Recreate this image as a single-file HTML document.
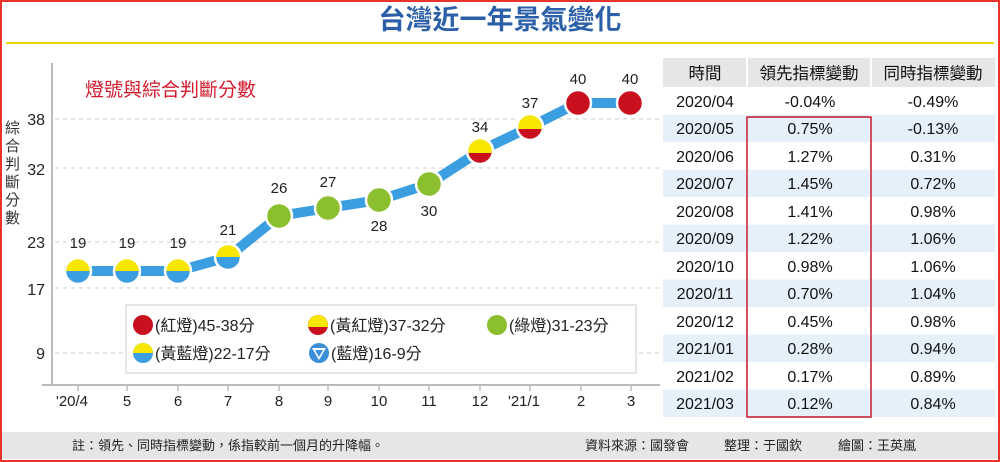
<!DOCTYPE html>
<html><head><meta charset="utf-8"><style>
html,body{margin:0;padding:0;background:#fff}
svg{display:block}
text{font-family:"Liberation Sans","Noto Sans CJK TC",sans-serif}
</style></head><body>
<svg width="1000" height="462" viewBox="0 0 1000 462" xmlns="http://www.w3.org/2000/svg">
<rect x="1" y="1" width="998" height="460" fill="#fff" stroke="#e8322c" stroke-width="2"/>
<text x="500" y="29" text-anchor="middle" font-size="27" font-weight="bold" fill="#2b5fa8">台灣近一年景氣變化</text>
<line x1="6" y1="43" x2="994" y2="43" stroke="#f0d300" stroke-width="2"/>
<g stroke="#ccc" stroke-dasharray="4,4" stroke-width="1">
<line x1="55" y1="119" x2="660" y2="119"/><line x1="55" y1="168" x2="660" y2="168"/>
<line x1="55" y1="242" x2="660" y2="242"/><line x1="55" y1="288" x2="660" y2="288"/>
<line x1="55" y1="353" x2="660" y2="353"/>
</g>
<line x1="52" y1="63" x2="52" y2="385" stroke="#bbb" stroke-width="2"/>
<line x1="42" y1="385" x2="660" y2="385" stroke="#bbb" stroke-width="2"/>
<g font-size="16" fill="#222" text-anchor="end">
<text x="45" y="125">38</text><text x="45" y="175">32</text><text x="45" y="248">23</text><text x="45" y="295">17</text><text x="45" y="359">9</text>
</g>
<g font-size="15" fill="#333">
<text x="5" y="133">綜</text><text x="5" y="151">合</text><text x="5" y="169">判</text><text x="5" y="187">斷</text><text x="5" y="205">分</text><text x="5" y="223">數</text>
</g>
<text x="85" y="96" font-size="19" fill="#d3192b">燈號與綜合判斷分數</text>
<g stroke="#bbb" stroke-width="1.5">
<line x1="78" y1="385" x2="78" y2="391"/><line x1="127" y1="385" x2="127" y2="391"/><line x1="178" y1="385" x2="178" y2="391"/><line x1="228" y1="385" x2="228" y2="391"/><line x1="279" y1="385" x2="279" y2="391"/><line x1="328" y1="385" x2="328" y2="391"/><line x1="379" y1="385" x2="379" y2="391"/><line x1="429" y1="385" x2="429" y2="391"/><line x1="480" y1="385" x2="480" y2="391"/><line x1="530" y1="385" x2="530" y2="391"/><line x1="581" y1="385" x2="581" y2="391"/><line x1="631" y1="385" x2="631" y2="391"/>
</g>
<g font-size="15" fill="#222" text-anchor="middle">
<text x="72" y="406">'20/4</text><text x="127" y="406">5</text><text x="178" y="406">6</text><text x="228" y="406">7</text><text x="279" y="406">8</text><text x="328" y="406">9</text><text x="379" y="406">10</text><text x="429" y="406">11</text><text x="480" y="406">12</text><text x="524" y="406">'21/1</text><text x="581" y="406">2</text><text x="631" y="406">3</text>
</g>
<polyline points="78,271 127,271 178,271 228,257 279,216 328,208 379,200 429,184 480,151 530,127 578,103 630,103" fill="none" stroke="#3a9ee0" stroke-width="10" stroke-linejoin="round"/>
<g id="yb">
<g transform="translate(78,271)"><circle r="13" fill="#3a9ee0"/><path d="M-13,0 A13,13 0 0 1 13,0 Z" fill="#f7e600"/><circle r="13" fill="none" stroke="#fff" stroke-width="2.5"/></g>
<g transform="translate(127,271)"><circle r="13" fill="#3a9ee0"/><path d="M-13,0 A13,13 0 0 1 13,0 Z" fill="#f7e600"/><circle r="13" fill="none" stroke="#fff" stroke-width="2.5"/></g>
<g transform="translate(178,271)"><circle r="13" fill="#3a9ee0"/><path d="M-13,0 A13,13 0 0 1 13,0 Z" fill="#f7e600"/><circle r="13" fill="none" stroke="#fff" stroke-width="2.5"/></g>
<g transform="translate(228,257)"><circle r="13" fill="#3a9ee0"/><path d="M-13,0 A13,13 0 0 1 13,0 Z" fill="#f7e600"/><circle r="13" fill="none" stroke="#fff" stroke-width="2.5"/></g>
</g>
<g stroke="#fff" stroke-width="2.5">
<circle cx="279" cy="216" r="13" fill="#8cbf2e"/>
<circle cx="328" cy="208" r="13" fill="#8cbf2e"/>
<circle cx="379" cy="200" r="13" fill="#8cbf2e"/>
<circle cx="429" cy="184" r="13" fill="#8cbf2e"/>
<circle cx="578" cy="103" r="13" fill="#c8101e"/>
<circle cx="630" cy="103" r="13" fill="#c8101e"/>
</g>
<g transform="translate(480,151)"><circle r="13" fill="#c8101e"/><path d="M-12.85,2 A13,13 0 1 1 12.85,2 Z" fill="#f7e600"/><circle r="13" fill="none" stroke="#fff" stroke-width="2.5"/></g>
<g transform="translate(530,127)"><circle r="13" fill="#c8101e"/><path d="M-12.85,2 A13,13 0 1 1 12.85,2 Z" fill="#f7e600"/><circle r="13" fill="none" stroke="#fff" stroke-width="2.5"/></g>
<g font-size="15" fill="#222" text-anchor="middle">
<text x="78" y="248">19</text><text x="127" y="248">19</text><text x="178" y="248">19</text><text x="228" y="235">21</text>
<text x="279" y="193">26</text><text x="328" y="187">27</text><text x="379" y="231">28</text><text x="429" y="216">30</text>
<text x="480" y="132">34</text><text x="530" y="108">37</text><text x="578" y="84">40</text><text x="630" y="84">40</text>
</g>
<rect x="126" y="305" width="510" height="68" fill="#fff" stroke="#ddd" stroke-width="1.5"/>
<circle cx="143" cy="325" r="10" fill="#c8101e"/>
<g transform="translate(318,325)"><circle r="10" fill="#c8101e"/><path d="M-9.8,2 A10,10 0 1 1 9.8,2 Z" fill="#f7e600"/></g>
<circle cx="497" cy="325" r="10" fill="#8cbf2e"/>
<g transform="translate(143,353)"><circle r="10" fill="#3a9ee0"/><path d="M-10,0 A10,10 0 0 1 10,0 Z" fill="#f7e600"/></g>
<circle cx="319" cy="353" r="10" fill="#3a8fd8"/>
<path d="M312,348 L326,348 L319,360 Z" fill="#fff"/><path d="M315,350 L323,350 L319,357 Z" fill="#3a8fd8"/>
<g font-size="16" fill="#222">
<text x="155" y="331">(紅燈)45-38分</text><text x="330" y="331">(黃紅燈)37-32分</text><text x="509" y="331">(綠燈)31-23分</text>
<text x="155" y="359">(黃藍燈)22-17分</text><text x="331" y="359">(藍燈)16-9分</text>
</g>
<rect x="663" y="58" width="332" height="29" fill="#e6e6e6"/>
<g fill="#e6f0fa">
<rect x="663" y="114.5" width="332" height="27.5"/><rect x="663" y="169.5" width="332" height="27.5"/><rect x="663" y="224.5" width="332" height="27.5"/><rect x="663" y="279.5" width="332" height="27.5"/><rect x="663" y="334.5" width="332" height="27.5"/><rect x="663" y="389.5" width="332" height="27.5"/>
</g>
<line x1="747" y1="58" x2="747" y2="417" stroke="#fff" stroke-width="2"/>
<line x1="871" y1="58" x2="871" y2="417" stroke="#fff" stroke-width="2"/>
<g font-size="16.5" fill="#111" text-anchor="middle">
<text x="705" y="79">時間</text><text x="809" y="79">領先指標變動</text><text x="933" y="79">同時指標變動</text>
</g>
<g font-size="16" fill="#111" text-anchor="middle">
<text x="705" y="107">2020/04</text><text x="810" y="107">-0.04%</text><text x="933" y="107">-0.49%</text>
<text x="705" y="134">2020/05</text><text x="810" y="134">0.75%</text><text x="933" y="134">-0.13%</text>
<text x="705" y="162">2020/06</text><text x="810" y="162">1.27%</text><text x="933" y="162">0.31%</text>
<text x="705" y="189">2020/07</text><text x="810" y="189">1.45%</text><text x="933" y="189">0.72%</text>
<text x="705" y="217">2020/08</text><text x="810" y="217">1.41%</text><text x="933" y="217">0.98%</text>
<text x="705" y="244">2020/09</text><text x="810" y="244">1.22%</text><text x="933" y="244">1.06%</text>
<text x="705" y="272">2020/10</text><text x="810" y="272">0.98%</text><text x="933" y="272">1.06%</text>
<text x="705" y="299">2020/11</text><text x="810" y="299">0.70%</text><text x="933" y="299">1.04%</text>
<text x="705" y="327">2020/12</text><text x="810" y="327">0.45%</text><text x="933" y="327">0.98%</text>
<text x="705" y="354">2021/01</text><text x="810" y="354">0.28%</text><text x="933" y="354">0.94%</text>
<text x="705" y="382">2021/02</text><text x="810" y="382">0.17%</text><text x="933" y="382">0.89%</text>
<text x="705" y="409">2021/03</text><text x="810" y="409">0.12%</text><text x="933" y="409">0.84%</text>
</g>
<rect x="747" y="117" width="124" height="300" fill="none" stroke="#c4162a" stroke-width="1.5"/>
<rect x="2" y="432" width="996" height="27" fill="#e6e6e6"/>
<g font-size="13" fill="#222">
<text x="72" y="450">註：領先、同時指標變動，係指較前一個月的升降幅。</text>
<text x="585" y="450">資料來源：國發會</text>
<text x="724" y="450">整理：于國欽</text>
<text x="838" y="450">繪圖：王英嵐</text>
</g>
</svg>
</body></html>
